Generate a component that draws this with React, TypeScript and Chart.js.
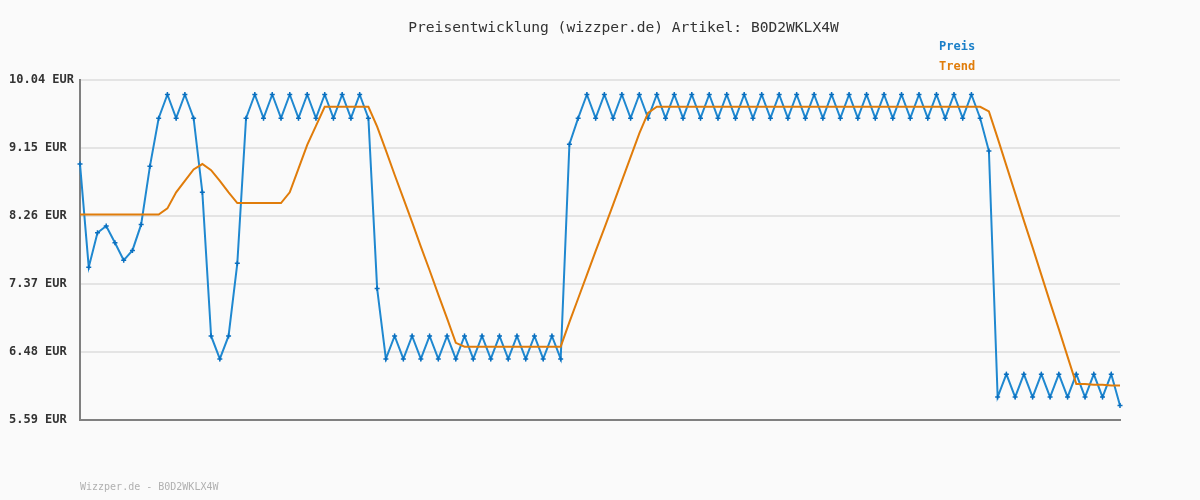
import React, { useEffect, useRef } from "react";
import { Chart, registerables } from "chart.js";

Chart.register(...registerables);

const TITLE = "Preisentwicklung (wizzper.de) Artikel: B0D2WKLX4W";
const FOOTER = "Wizzper.de - B0D2WKLX4W";
const LEGEND_PREIS = "Preis";
const LEGEND_TREND = "Trend";
const CURRENCY = "EUR";

const yTicks = [5.59, 6.48, 7.37, 8.26, 9.15, 10.04];

// Preis: 120 observations
const preisStart = [
  8.94, 7.59, 8.04, 8.13, 7.91, 7.68, 7.81, 8.15, 8.91, 9.54,
  9.85, 9.54, 9.85, 9.54, 8.57, 6.69, 6.39, 6.69, 7.64, 9.54,
  9.85, 9.54, 9.85, 9.54, 9.85, 9.54, 9.85, 9.54, 9.85, 9.54,
  9.85, 9.54, 9.85, 9.54, 7.31,
];
const preisLow = [
  6.39, 6.69, 6.39, 6.69, 6.39, 6.69, 6.39, 6.69, 6.39, 6.69,
  6.39, 6.69, 6.39, 6.69, 6.39, 6.69, 6.39, 6.69, 6.39, 6.69,
  6.39,
];
const preisHigh = [
  9.20, 9.54,
  9.85, 9.54, 9.85, 9.54, 9.85, 9.54, 9.85, 9.54, 9.85, 9.54,
  9.85, 9.54, 9.85, 9.54, 9.85, 9.54, 9.85, 9.54, 9.85, 9.54,
  9.85, 9.54, 9.85, 9.54, 9.85, 9.54, 9.85, 9.54, 9.85, 9.54,
  9.85, 9.54, 9.85, 9.54, 9.85, 9.54, 9.85, 9.54, 9.85, 9.54,
  9.85, 9.54, 9.85, 9.54, 9.85, 9.54, 9.11,
];
const preisEnd = [
  5.89, 6.19, 5.89, 6.19, 5.89, 6.19, 5.89, 6.19, 5.89, 6.19,
  5.89, 6.19, 5.89, 6.19, 5.78,
];
const preis = [...preisStart, ...preisLow, ...preisHigh, ...preisEnd];

// Trend: 120 values
const trend = [
  8.28, 8.28, 8.28, 8.28, 8.28, 8.28, 8.28, 8.28, 8.28, 8.28,
  8.36, 8.57, 8.72, 8.87, 8.94, 8.86, 8.72, 8.57, 8.43, 8.43,
  8.43, 8.43, 8.43, 8.43, 8.57, 8.88, 9.19, 9.44, 9.69, 9.69,
  9.69, 9.69, 9.69, 9.69, 9.43, 9.12, 8.80, 8.49, 8.18, 7.86,
  7.55, 7.23, 6.92, 6.60, 6.55, 6.55, 6.55, 6.55, 6.55, 6.55,
  6.55, 6.55, 6.55, 6.55, 6.55, 6.55, 6.87, 7.18, 7.49, 7.80,
  8.10, 8.41, 8.72, 9.03, 9.34, 9.61, 9.69, 9.69, 9.69, 9.69,
  9.69, 9.69, 9.69, 9.69, 9.69, 9.69, 9.69, 9.69, 9.69, 9.69,
  9.69, 9.69, 9.69, 9.69, 9.69, 9.69, 9.69, 9.69, 9.69, 9.69,
  9.69, 9.69, 9.69, 9.69, 9.69, 9.69, 9.69, 9.69, 9.69, 9.69,
  9.69, 9.69, 9.69, 9.69, 9.63, 9.28, 8.92, 8.56, 8.20, 7.85,
  7.49, 7.13, 6.78, 6.42, 6.06, 6.06, 6.05, 6.05, 6.04, 6.04,
];

const labels = preis.map((_, i) => String(i + 1));

const MONO = '"DejaVu Sans Mono", "Liberation Mono", monospace';
const BLUE_LINE = "#1f88d0";
const BLUE_POINT = "#0a6fbf";
const BLUE_TEXT = "#1a7fc8";
const ORANGE = "#e07c0a";

const decor = {
  id: "decor",
  beforeDraw(chart: any) {
    const ctx = chart.ctx;
    ctx.save();
    ctx.fillStyle = "#fafafa";
    ctx.fillRect(0, 0, chart.width, chart.height);
    ctx.restore();
  },
  afterDraw(chart: any) {
    const ctx = chart.ctx;
    ctx.save();
    ctx.textBaseline = "middle";
    ctx.font = `14.6px ${MONO}`;
    ctx.fillStyle = "#333333";
    ctx.textAlign = "center";
    ctx.fillText(TITLE, 623.5, 28);
    ctx.textAlign = "left";
    ctx.font = `bold 12px ${MONO}`;
    ctx.fillStyle = BLUE_TEXT;
    ctx.fillText(LEGEND_PREIS, 939, 47);
    ctx.fillStyle = ORANGE;
    ctx.fillText(LEGEND_TREND, 939, 67);
    ctx.font = `10px ${MONO}`;
    ctx.fillStyle = "#b0b0b0";
    ctx.fillText(FOOTER, 80, 487);
    ctx.restore();
  },
};

export default function App() {
  const ref = useRef<HTMLCanvasElement | null>(null);

  useEffect(() => {
    if (!ref.current) return;
    const chart = new Chart(ref.current, {
      type: "line",
      data: {
        labels,
        datasets: [
          {
            label: LEGEND_TREND,
            data: trend,
            borderColor: ORANGE,
            borderWidth: 2,
            pointRadius: 0,
            tension: 0,
            fill: false,
            order: 0,
          },
          {
            label: LEGEND_PREIS,
            data: preis,
            borderColor: BLUE_LINE,
            borderWidth: 2,
            pointStyle: "cross",
            pointRadius: 2.5,
            pointBorderWidth: 1.5,
            pointBorderColor: BLUE_POINT,
            pointBackgroundColor: BLUE_POINT,
            tension: 0,
            fill: false,
            order: 1,
          },
        ],
      },
      options: {
        responsive: false,
        animation: false,
        devicePixelRatio: 1,
        events: [],
        layout: { padding: { left: 9, right: 80, top: 80, bottom: 80 } },
        plugins: {
          legend: { display: false },
          title: { display: false },
          tooltip: { enabled: false },
        },
        scales: {
          x: {
            type: "category",
            offset: false,
            ticks: { display: false },
            grid: { display: false, drawTicks: false },
            border: { display: true, color: "#808080", width: 2 },
            afterFit(s: any) {
              s.height = 0;
            },
          },
          y: {
            min: yTicks[0],
            max: yTicks[yTicks.length - 1],
            afterBuildTicks(s: any) {
              s.ticks = yTicks.map((v) => ({ value: v }));
            },
            ticks: {
              crossAlign: "far",
              padding: 0,
              color: "#333333",
              font: { family: MONO, size: 12, weight: "bold" },
              callback: (v: any) => `${Number(v).toFixed(2)} ${CURRENCY}`,
            },
            grid: { color: "#e4e4e4", lineWidth: 2, drawTicks: false },
            border: { color: "#808080", width: 2 },
            afterFit(s: any) {
              s.width = 71;
            },
          },
        },
      },
      plugins: [decor],
    } as any);
    return () => chart.destroy();
  }, []);

  return (
    <div style={{ position: "fixed", left: 0, top: 0, width: 1200, height: 500 }}>
      <canvas ref={ref} width={1200} height={500} style={{ display: "block" }} />
    </div>
  );
}
